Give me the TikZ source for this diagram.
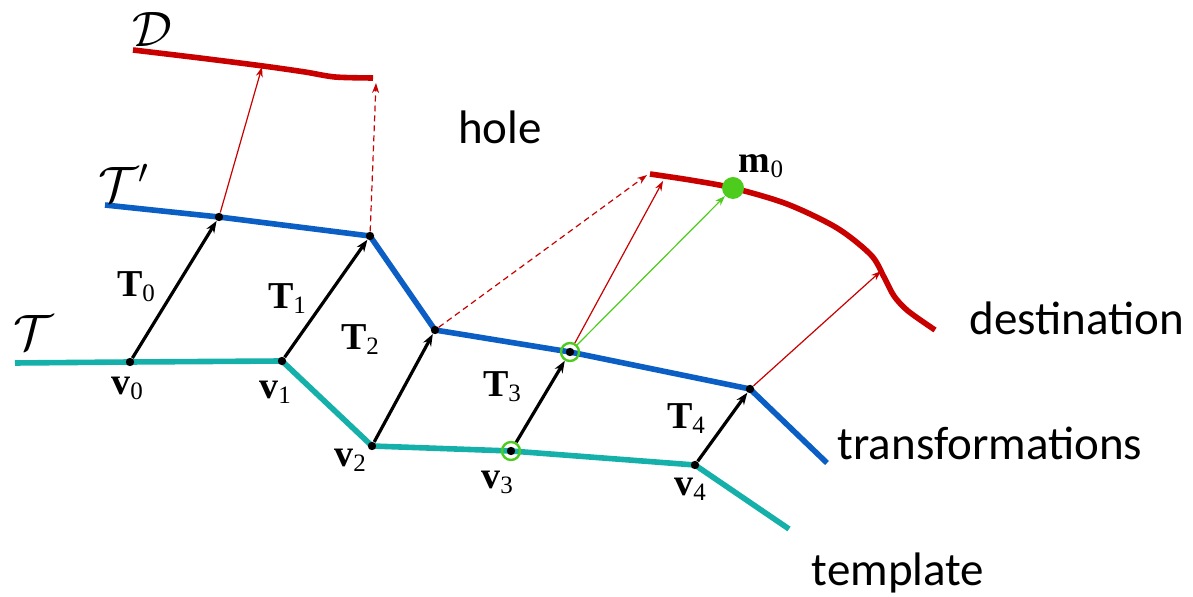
\documentclass[tikz,border=0pt]{standalone}
\usepackage{fontspec}
\setsansfont{Carlito}
\newfontfamily\lblfont{Liberation Serif}
\usetikzlibrary{arrows.meta,positioning}
\definecolor{tmplcol}{RGB}{22,176,170}
\definecolor{trfcol}{RGB}{10,94,196}
\definecolor{dstcol}{RGB}{200,0,0}
\definecolor{hitcol}{RGB}{78,204,30}
\newcommand{\bsub}[2]{{\bfseries #1}\raisebox{-2.5pt}{\fontsize{12.5}{12.5}\selectfont #2}}

\begin{document}
\begin{tikzpicture}[
    x=0.5pt, y=-0.5pt,
    curve/.style={line width=2.8pt, line join=round},
    vtx/.style={circle, fill=black, inner sep=0pt, minimum size=4.2pt},
    ring/.style={circle, draw=hitcol, line width=1.2pt, inner sep=0pt, minimum size=9pt},
    tarrow/.style={-{Stealth[length=6pt,width=4.5pt]}, line width=1.6pt},
    warp/.style={-{Stealth[length=5pt,width=3.5pt]}, dstcol, line width=0.6pt},
    lbl/.style={font=\lblfont\fontsize{19}{19}\selectfont, inner sep=0pt},
    cal/.style={font=\fontsize{23}{23}\selectfont, inner sep=0pt},
    word/.style={font=\sffamily\fontsize{23.5}{26}\selectfont, inner sep=0pt}
]
\useasboundingbox (0,0) rectangle (1193,597);

% template and transformed vertices
\coordinate (ta) at (15,363);
\coordinate (tb) at (789,529);
\coordinate (pa) at (105,205);
\coordinate (pb) at (827,463);
\coordinate (v0c) at (130,362);
\coordinate (v1c) at (282,361);
\coordinate (v2c) at (372,446);
\coordinate (v3c) at (511,451);
\coordinate (v4c) at (695,465);
\coordinate (p0c) at (219,217);
\coordinate (p1c) at (370,236);
\coordinate (p2c) at (435,330);
\coordinate (p3c) at (570,352);
\coordinate (p4c) at (750,389);

% destination points hit by the arrows
\coordinate (d0) at (262,67);
\coordinate (d1) at (376,83);
\coordinate (d2) at (647,175);
\coordinate (d3) at (663,181);
\coordinate (d4) at (881,271);

\draw[curve, tmplcol] (ta) -- (v0c) -- (v1c) -- (v2c) -- (v3c) -- (v4c) -- (tb);
\draw[curve, trfcol] (pa) -- (p0c) -- (p1c) -- (p2c) -- (p3c) -- (p4c) -- (pb);
\draw[curve, dstcol] plot[smooth] coordinates {(133,50) (200,58) (263,66) (305,72) (335,77) (373,78)};
\draw[curve, dstcol] plot[smooth] coordinates {(650,174) (690,180) (733,188) (787,204) (837,228) (871,255) (884,277) (894,296) (908,311) (935,330)};

\node[vtx] (v0) at (v0c) {};
\node[vtx] (v1) at (v1c) {};
\node[vtx] (v2) at (v2c) {};
\node[vtx] (v3dot) at (v3c) {};
\node[ring] (v3) at (v3c) {};
\node[vtx] (v4) at (v4c) {};
\node[vtx] (p0) at (p0c) {};
\node[vtx] (p1) at (p1c) {};
\node[vtx] (p2) at (p2c) {};
\node[vtx] (p3dot) at (p3c) {};
\node[ring] (p3) at (p3c) {};
\node[vtx] (p4) at (p4c) {};
\node[circle, fill=hitcol, inner sep=0pt, minimum size=11pt] (m0) at (733,188) {};

\foreach \a/\b in {v0/p0, v1/p1, v2/p2, v3/p3, v4/p4}
  \draw[tarrow] (\a) -- (\b);

\draw[warp] (p0) -- (d0);
\draw[warp, dash pattern=on 3pt off 2pt] (p1) -- (d1);
\draw[warp, dash pattern=on 3pt off 2pt] (p2) -- (d2);
\draw[warp] (p3) -- (d3);
\draw[warp, hitcol] (p3) -- (m0);
\draw[warp] (p4) -- (d4);

% labels
\node[cal] (lD) at (152,30) {$\mathcal{D}$};
\node[cal] (lTp) at (124,183) {$\mathcal{T}'$};
\node[cal] (lT) at (33,333) {$\mathcal{T}$};
\node[lbl] (lT0) at (136,287) {\bsub{T}{0}};
\node[lbl] (lT1) at (287,299) {\bsub{T}{1}};
\node[lbl] (lT2) at (360,340) {\bsub{T}{2}};
\node[lbl] (lT3) at (502,387) {\bsub{T}{3}};
\node[lbl] (lT4) at (686,419) {\bsub{T}{4}};
\node[lbl] (lv0) at (127,388) {\bsub{v}{0}};
\node[lbl] (lv1) at (275,392) {\bsub{v}{1}};
\node[lbl] (lv2) at (350,460) {\bsub{v}{2}};
\node[lbl] (lv3) at (497,482) {\bsub{v}{3}};
\node[lbl] (lv4) at (690,489) {\bsub{v}{4}};
\node[lbl] (lm0) at (761,166) {\bsub{m}{0}};

\node[word] (hole) at (500,127) {hole};
\node[word] (dest) at (1077,318) {destination};
\node[word] (trf) at (990,443) {transformations};
\node[word] (tmpl) at (898,573) {template};
\end{tikzpicture}
\end{document}
